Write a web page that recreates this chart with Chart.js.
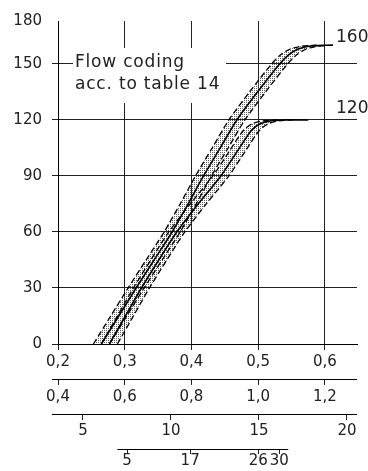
<!DOCTYPE html>
<html><head><meta charset="utf-8">
<script src="https://cdn.jsdelivr.net/npm/chart.js@4"></script>
<style>html,body{margin:0;padding:0;background:#fff}#wrap{width:368px;height:471px}</style>
</head><body><div id="wrap"><canvas id="c" width="368" height="471"></canvas></div>
<script>
// ---- data ----
const curve160X = [0.265, 0.291, 0.317, 0.344, 0.371, 0.395, 0.418, 0.443, 0.468, 0.499, 0.532, 0.546, 0.560, 0.578, 0.600, 0.612];
const curve160Y = [0, 15, 30, 45, 60, 75, 90, 105, 120, 135, 150, 155, 158, 159.6, 160, 160];
const band160Y = [0, 15, 30, 45, 60, 75, 90, 105, 120, 135, 150, 155, 158, 159.6, 160];
const band160LeftX = [0.253, 0.279, 0.305, 0.332, 0.359, 0.383, 0.406, 0.431, 0.456, 0.487, 0.520, 0.534, 0.548, 0.566, 0.588];
const band160RightX = [0.277, 0.303, 0.329, 0.356, 0.383, 0.407, 0.430, 0.455, 0.480, 0.511, 0.544, 0.558, 0.572, 0.590, 0.612];

const curve120X = [0.277, 0.301, 0.325, 0.351, 0.378, 0.410, 0.444, 0.470, 0.490, 0.503, 0.518, 0.540, 0.575];
const curve120Y = [0, 15, 30, 45, 60, 75, 90, 104, 114.5, 118, 119.5, 120, 120];
const band120Y = [0, 15, 30, 45, 60, 75, 90, 104, 114.5, 118, 119.5, 120];
const band120LeftX = [0.265, 0.289, 0.313, 0.339, 0.366, 0.398, 0.432, 0.458, 0.478, 0.491, 0.506, 0.528];
const band120RightX = [0.289, 0.313, 0.337, 0.363, 0.390, 0.422, 0.456, 0.482, 0.502, 0.515, 0.530, 0.552];

const curveLabels = ['160', '120'];
const curveLevels = [160, 120];

const yTickValues = [0, 30, 60, 90, 120, 150, 173];
const yTickLabels = ['0', '30', '60', '90', '120', '150', '180'];
const yAxisTop = 173;

const flowMin = 0.2, flowMax = 0.648;
const flowTicks = [0.2, 0.3, 0.4, 0.5, 0.6];
const flowLabels = ['0,2', '0,3', '0,4', '0,5', '0,6'];

const scale2Min = 0.4, scale2Max = 1.296;
const scale2Ticks = [0.4, 0.6, 0.8, 1.0, 1.2];
const scale2Labels = ['0,4', '0,6', '0,8', '1,0', '1,2'];

const scale3Min = 3.58, scale3Max = 20.57;
const scale3Ticks = [5, 10, 15, 20];
const scale3Labels = ['5', '10', '15', '20'];

// nonlinear scale: tick positions expressed on the flow scale
const scale4Positions = [0.3035, 0.398, 0.5, 0.5315];
const scale4Labels = ['5', '17', '26', '30'];
const scale4Range = [0.289, 0.545];

const annotationLines = ['Flow coding', 'acc. to table 14'];

// ---- helpers ----
function pts(xs, ys) { return xs.map((x, i) => ({ x: x, y: ys[i] })); }
function shape(lx, rx, ys) { return pts(lx, ys).concat(pts(rx, ys).reverse()); }
function makeStipple() {
  const c = document.createElement('canvas'); c.width = 2; c.height = 2;
  const g = c.getContext('2d');
  g.fillStyle = '#5e5e5e'; g.fillRect(0, 0, 1, 1);
  return g.createPattern(c, 'repeat');
}
const stipple = makeStipple();
const FONT = '"DejaVu Sans", "Liberation Sans", sans-serif';
Chart.defaults.font.family = FONT;
Chart.defaults.font.size = 15;
Chart.defaults.color = '#222';

const common = { pointRadius: 0, pointHoverRadius: 0, tension: 0.25, xAxisID: 'x', yAxisID: 'y' };
const fillDs = (data) => Object.assign({ data, fill: 'shape', backgroundColor: stipple, borderWidth: 0, borderColor: 'rgba(0,0,0,0)', order: 5 }, common);
const edgeDs = (data) => Object.assign({ data, fill: false, borderColor: '#000', borderWidth: 1.3, borderDash: [6, 3], order: 3 }, common);
const lineDs = (data) => Object.assign({ data, fill: false, borderColor: '#000', borderWidth: 1.6, order: 1 }, common);

const decor = {
  id: 'decor',
  beforeDatasetsDraw(chart) {
    const { ctx, chartArea: a } = chart;
    ctx.save();
    ctx.fillStyle = '#fff';
    ctx.fillRect(a.left + 15, 48, 153, 55);
    ctx.fillStyle = '#222';
    ctx.font = '17px ' + FONT;
    ctx.textAlign = 'left'; ctx.textBaseline = 'alphabetic';
    if ('letterSpacing' in ctx) ctx.letterSpacing = '0.8px';
    annotationLines.forEach((t, i) => ctx.fillText(t, a.left + 17, 67 + 22 * i));
    ctx.restore();
  },
  afterDraw(chart) {
    const { ctx, chartArea: a, scales } = chart;
    ctx.save();
    ctx.strokeStyle = '#000'; ctx.lineWidth = 1;
    ['x2', 'x3'].forEach(id => {
      const y = Math.round(scales[id].top) + 0.5;
      ctx.beginPath(); ctx.moveTo(a.left - 6, y); ctx.lineTo(a.right, y); ctx.stroke();
    });
    const y4 = Math.round(scales.x4.top) + 0.5;
    ctx.beginPath();
    ctx.moveTo(scales.x4.getPixelForValue(scale4Range[0]), y4);
    ctx.lineTo(scales.x4.getPixelForValue(scale4Range[1]), y4);
    ctx.stroke();
    ctx.fillStyle = '#222';
    ctx.font = '17px ' + FONT;
    ctx.textAlign = 'left'; ctx.textBaseline = 'alphabetic';
    const offs = [3, 7];
    curveLabels.forEach((t, i) => {
      ctx.fillText(t, a.right - 21, scales.y.getPixelForValue(curveLevels[i]) - offs[i]);
    });
    ctx.restore();
  }
};

const tickFont = { family: FONT, size: 15 };
function xAxis(min, max, tickVals, labels, height, tickLen, pad, onArea, border) {
  return {
    type: 'linear', position: 'bottom', min, max,
    afterBuildTicks: s => { s.ticks = tickVals.map(v => ({ value: v })); },
    afterFit: s => { s.height = height; },
    ticks: { callback: (v, i) => labels[i], font: tickFont, color: '#222', padding: pad, autoSkip: false, maxRotation: 0, minRotation: 0 },
    grid: { color: '#222', lineWidth: 1, tickLength: tickLen, drawTicks: true, drawOnChartArea: onArea },
    border: { display: border, color: '#000', width: 1 }
  };
}

new Chart(document.getElementById('c'), {
  type: 'line',
  data: {
    datasets: [
      fillDs(shape(band160LeftX, band160RightX, band160Y)),
      fillDs(shape(band120LeftX, band120RightX, band120Y)),
      edgeDs(pts(band160LeftX, band160Y)),
      edgeDs(pts(band160RightX, band160Y)),
      edgeDs(pts(band120LeftX, band120Y)),
      edgeDs(pts(band120RightX, band120Y)),
      lineDs(pts(curve160X, curve160Y)),
      lineDs(pts(curve120X, curve120Y))
    ]
  },
  options: {
    responsive: false,
    animation: false,
    events: [],
    devicePixelRatio: 1,
    layout: { padding: { top: 21, right: 11, left: 0, bottom: 0 } },
    plugins: { legend: { display: false }, tooltip: { enabled: false } },
    scales: {
      x: xAxis(flowMin, flowMax, flowTicks, flowLabels, 35, 6, 3, true, true),
      x2: xAxis(scale2Min, scale2Max, scale2Ticks, scale2Labels, 35, 6, 3, false, false),
      x3: xAxis(scale3Min, scale3Max, scale3Ticks, scale3Labels, 35, 6, 2, false, false),
      x4: xAxis(flowMin, flowMax, scale4Positions, scale4Labels, 22, 5, -2, false, false),
      y: {
        type: 'linear', position: 'left', min: 0, max: yAxisTop,
        afterBuildTicks: s => { s.ticks = yTickValues.map(v => ({ value: v })); },
        afterFit: s => { s.width = 58; },
        ticks: { callback: (v, i) => yTickLabels[i], font: tickFont, color: '#222', padding: 10, autoSkip: false },
        grid: { color: c => (c.tick && c.tick.value === yAxisTop) ? 'rgba(0,0,0,0)' : '#222', lineWidth: 1, tickLength: 6 },
        border: { display: true, color: '#000', width: 1 }
      }
    }
  },
  plugins: [decor]
});
</script>
</body></html>
